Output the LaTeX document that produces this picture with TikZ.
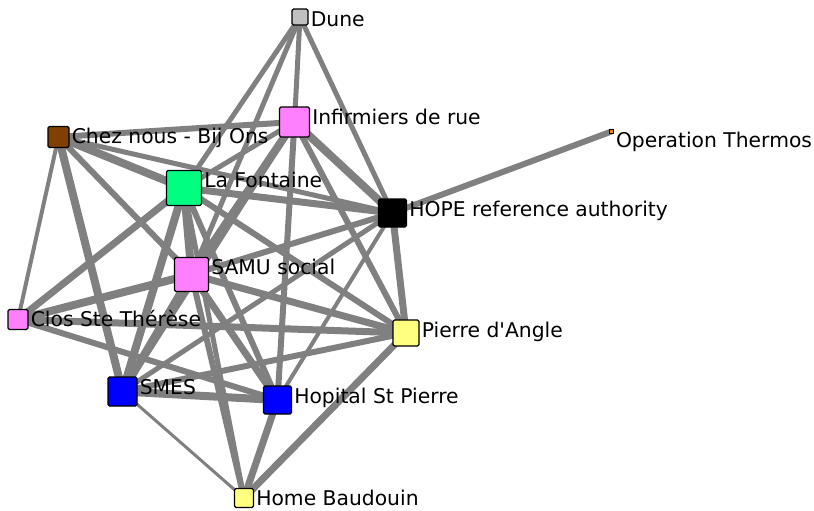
\documentclass[tikz,border=0pt]{standalone}
\usepackage{fontspec}
\setmainfont{DejaVu Sans}[Ligatures=TeXOff]
\usetikzlibrary{backgrounds}
\definecolor{edgegray}{HTML}{808080}
\definecolor{pinkv}{HTML}{FF80FF}
\definecolor{brownv}{HTML}{804000}
\definecolor{greenv}{HTML}{00FF80}
\definecolor{yellowv}{HTML}{FFFF80}
\definecolor{grayv}{HTML}{C0C0C0}
\definecolor{bluev}{HTML}{0000FF}
\definecolor{orangev}{HTML}{FF8000}
\begin{document}
\begin{tikzpicture}[x=1pt,y=-1pt,
  vtx/.style={draw=black, line width=1.2pt, rounded corners=1.5pt, minimum size=#1, inner sep=0pt},
  ew/.style={draw=edgegray, line width=#1},
  lbl/.style={anchor=base west, inner sep=0pt, font=\fontsize{20.3}{24}\selectfont}]
\useasboundingbox (0,0) rectangle (814,511);
\clip (0,0) rectangle (814,511);
% nodes
\node[vtx=16, fill=grayv] (dn) at (300,17) {};
\node[vtx=30, fill=pinkv] (in) at (294.5,122) {};
\node[vtx=21, fill=brownv] (cn) at (58.5,137) {};
\node[vtx=35, fill=greenv] (fn) at (184,188) {};
\node[vtx=28, fill=black] (hn) at (392.5,213) {};
\node[vtx=4, fill=orangev, line width=0.6pt, rounded corners=0pt] (on) at (611.5,131.5) {};
\node[vtx=34, fill=pinkv] (sn) at (191.5,274.5) {};
\node[vtx=20, fill=pinkv] (tn) at (18,319.5) {};
\node[vtx=26, fill=yellowv] (pn) at (406,333) {};
\node[vtx=29, fill=bluev] (mn) at (122.5,391.5) {};
\node[vtx=28, fill=bluev] (hsn) at (277.5,400) {};
\node[vtx=19, fill=yellowv] (bn) at (244,498) {};
% labels
\foreach \n/\t in {dn/Dune,in/Infirmiers de rue,cn/Chez nous - Bij Ons,fn/La Fontaine,hn/HOPE reference authority,on/Operation Thermos,sn/SAMU social,tn/Clos Ste Thérèse,pn/Pierre d'Angle,mn/SMES,hsn/Hopital St Pierre,bn/Home Baudouin}
  {\node[lbl] (\n l) at ([xshift=2pt,yshift=-18pt]\n.north east) {\t};}
% edges behind
\begin{pgfonlayer}{background}
\foreach \a/\b/\w in {dn/in/5,dn/fn/5,dn/sn/5,dn/hn/5,on/hn/6,
  cn/in/6,cn/fn/8,cn/hn/5,cn/sn/6,cn/mn/8,cn/tn/4,
  in/fn/5,in/sn/8,in/hn/8,in/pn/6,in/hsn/6,in/mn/6,
  fn/hn/7,fn/sn/8,fn/mn/8,fn/hsn/6,fn/pn/6,fn/tn/7,fn/bn/5,
  sn/hn/6,sn/pn/7,sn/mn/8,sn/hsn/7,sn/bn/6,sn/tn/8,
  hn/pn/7,hn/hsn/4,hn/mn/5,
  pn/mn/6,pn/bn/7,pn/tn/7,
  mn/hsn/8,mn/bn/3,hsn/bn/7,tn/hsn/6}
  {\draw[ew=\w pt] (\a.center) -- (\b.center);}
\end{pgfonlayer}
\end{tikzpicture}
\end{document}
